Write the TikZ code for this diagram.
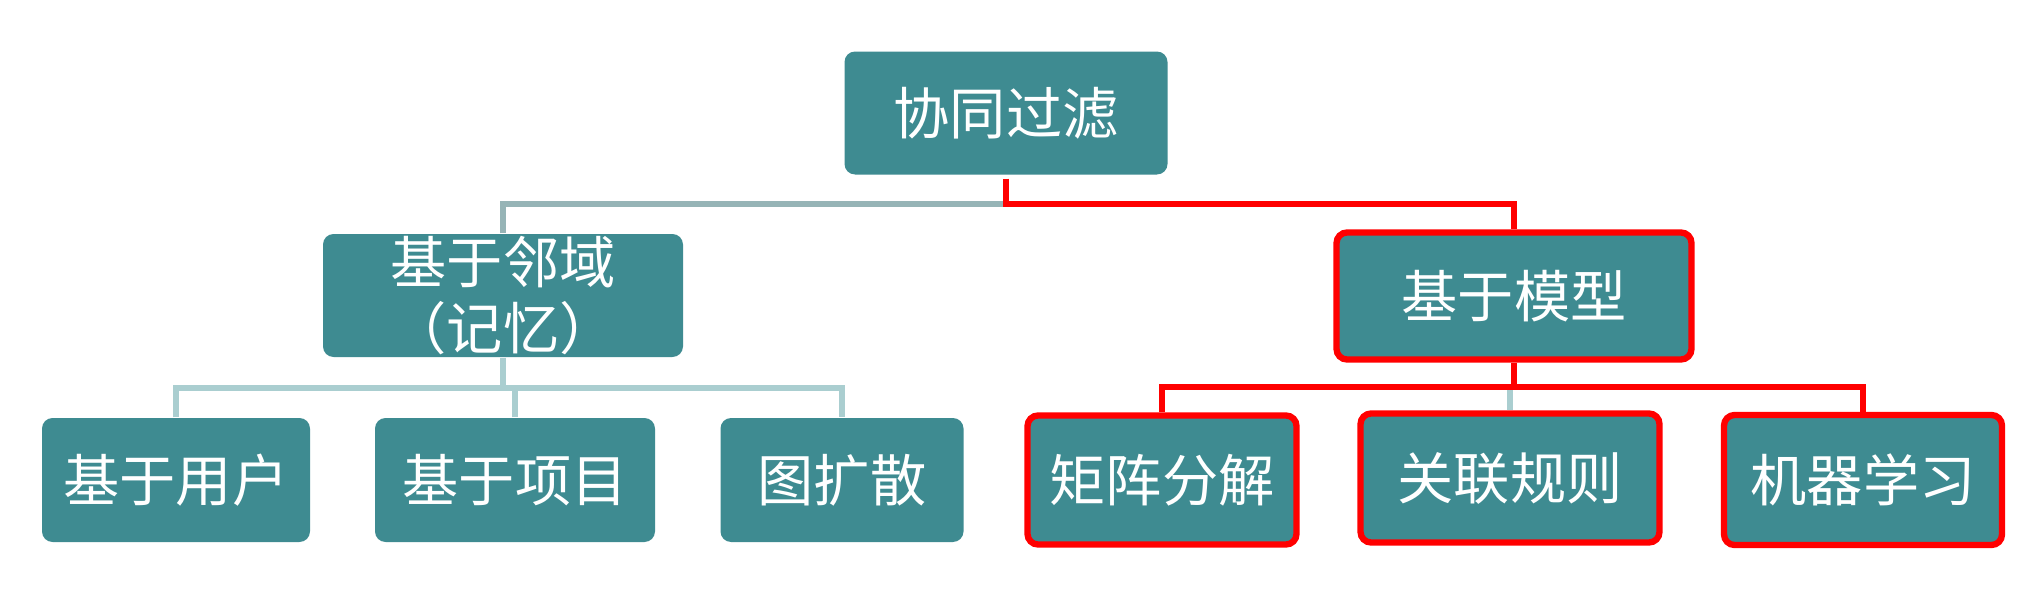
\documentclass[tikz,border=0pt]{standalone}
\usepackage{fontspec}
\newfontfamily\cjk{Noto Sans CJK SC}

\definecolor{boxteal}{RGB}{62,139,145}
\definecolor{topgrey}{RGB}{150,180,182}
\definecolor{lowgrey}{RGB}{170,206,208}

\begin{document}
\begin{tikzpicture}[
	box/.style = {fill = boxteal, rounded corners = 3pt, text = white, align = center, inner sep = 0pt,
		font = \cjk\fontsize{16}{19}\selectfont},
	redbox/.style = {box, draw = red, line width = 1.8pt},
	greyline/.style = {topgrey, line width = 1.6pt},
	lowline/.style = {lowgrey, line width = 1.6pt},
	redline/.style = {red, line width = 1.6pt}
	]

	% Frame

	\useasboundingbox (0, 0) rectangle (20.38, 5.94);

	% Boxes

	\node [box, minimum width = 3.23 cm, minimum height = 1.23 cm] (filter) at (10.06, 4.81) {协同过滤};

	\node [box, minimum width = 3.60 cm, minimum height = 1.23 cm] (memory) at (5.03, 2.985) {基于邻域\\（记忆）};
	\node [redbox, minimum width = 3.55 cm, minimum height = 1.27 cm] (model) at (15.14, 2.98) {基于模型};

	\node [box, minimum width = 2.68 cm, minimum height = 1.24 cm] (user) at (1.76, 1.14) {基于用户};
	\node [box, minimum width = 2.80 cm, minimum height = 1.24 cm] (item) at (5.15, 1.14) {基于项目};
	\node [box, minimum width = 2.43 cm, minimum height = 1.24 cm] (graph) at (8.42, 1.14) {图扩散};

	\node [redbox, minimum width = 2.69 cm, minimum height = 1.29 cm] (matrix) at (11.62, 1.14) {矩阵分解};
	\node [redbox, minimum width = 2.99 cm, minimum height = 1.29 cm] (rules) at (15.10, 1.16) {关联规则};
	\node [redbox, minimum width = 2.78 cm, minimum height = 1.30 cm] (learning) at (18.63, 1.14) {机器学习};

	% Bars

	\coordinate (topbar) at (10.06, 3.90);
	\coordinate (leftbar) at (5.03, 2.06);
	\coordinate (rightbar) at (15.14, 2.07);

	% Connectors

	\draw [greyline] (memory.north) |- (topbar);
	\draw [redline, shorten < = 1pt] (filter.south) -- (topbar) -| (model.north);

	\draw [lowline] (memory.south) -- (leftbar);
	\draw [lowline] (user.north) |- (leftbar) -| (graph.north);
	\draw [lowline] (item.north) -- (item.north |- leftbar);

	\draw [lowline] (rules.north) -- (rules.north |- rightbar);
	\draw [redline] (model.south) -- (rightbar);
	\draw [redline] (matrix.north) |- (rightbar) -| (learning.north);

\end{tikzpicture}
\end{document}
